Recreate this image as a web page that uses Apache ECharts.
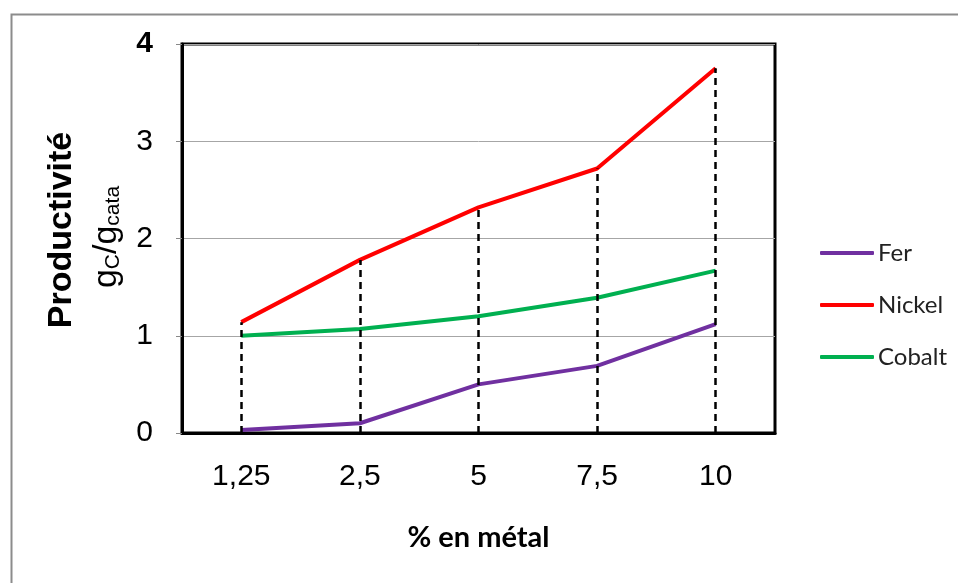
<!DOCTYPE html>
<html>
<head>
<meta charset="utf-8">
<script src="https://cdn.jsdelivr.net/npm/echarts@6/dist/echarts.min.js"></script>
<style>html,body{margin:0;padding:0;background:#fff}#c{width:958px;height:583px}</style>
</head>
<body>
<div id="c"></div>
<script>
var categories = ['1,25', '2,5', '5', '7,5', '10'];
var fer = [0.03, 0.10, 0.50, 0.69, 1.12];
var nickel = [1.14, 1.78, 2.32, 2.72, 3.75];
var cobalt = [1.00, 1.07, 1.20, 1.39, 1.67];
var yTicks = [0, 1, 2, 3, 4];

var chart = echarts.init(document.getElementById('c'));
var dropData = categories.map(function (c, i) {
  var top = Math.max(fer[i], nickel[i], cobalt[i]);
  return [{ coord: [c, 0] }, { coord: [c, top] }];
});
var font = 'Liberation Sans, Arial, sans-serif';
chart.setOption({
  animation: false,
  backgroundColor: '#fff',
  grid: { left: 182, top: 44, right: 183, bottom: 150, show: true, borderColor: '#000', borderWidth: 3, backgroundColor: 'transparent' },
  legend: {
    orient: 'vertical', left: 815, top: 236,
    itemWidth: 54, itemHeight: 4, itemGap: 28,
    icon: 'roundRect',
    textStyle: { fontFamily: 'Lato, sans-serif', fontSize: 24, color: '#222', lineHeight: 20, padding: [0, 0, 0, -1] },
    data: ['Fer', 'Nickel', 'Cobalt']
  },
  xAxis: {
    type: 'category', data: categories,
    axisLine: { lineStyle: { color: '#000', width: 3 } },
    axisTick: { show: false },
    axisLabel: { fontFamily: font, fontSize: 30, color: '#000', margin: 29 },
    name: '% en métal', nameLocation: 'middle', nameGap: 90,
    nameTextStyle: { fontFamily: 'Lato, sans-serif', fontSize: 29, fontWeight: 'bold', color: '#000' }
  },
  yAxis: {
    type: 'value', min: 0, max: 4, interval: 1,
    axisLine: { show: true, lineStyle: { color: '#000', width: 3 } },
    axisTick: { show: true, length: 6, lineStyle: { color: '#888', width: 1 } },
    splitLine: { lineStyle: { color: '#a6a6a6', width: 1 } },
    axisLabel: {
      fontFamily: font, fontSize: 30, color: '#000', margin: 29,
      formatter: function (v) { return v === 4 ? '{b|' + v + '}' : String(v); },
      rich: { b: { fontFamily: font, fontSize: 30, fontWeight: 'bold', color: '#000' } }
    }
  },
  graphic: [
    { type: 'rect', left: 9, top: 12, shape: { width: 1200, height: 1200 }, style: { fill: 'none', stroke: '#8c8c8c', lineWidth: 2 }, z: -10, silent: true },
    { type: 'text', x: 62, y: 230, rotation: Math.PI / 2,
      style: { text: 'Productivité', font: 'bold 34px Liberation Sans, Arial, sans-serif', fill: '#000', align: 'center', verticalAlign: 'middle' } },
    { type: 'text', x: 105, y: 237, rotation: Math.PI / 2,
      style: {
        text: '{g|g}{s|C}{g|/g}{s|cata}', align: 'center', verticalAlign: 'middle',
        rich: {
          g: { fontFamily: font, fontSize: 34, fill: '#000', color: '#000', lineHeight: 38, verticalAlign: 'bottom' },
          s: { fontFamily: font, fontSize: 21, fill: '#000', color: '#000', lineHeight: 21, verticalAlign: 'bottom' }
        }
      } }
  ],
  series: [
    { name: 'drop', type: 'line', data: [], z: 1,
      markLine: { silent: true, symbol: 'none', label: { show: false },
        lineStyle: { color: '#000', width: 2.5, type: [7, 5] }, data: dropData } },
    { name: 'Fer', type: 'line', data: fer, showSymbol: false, z: 3, color: '#7030A0', lineStyle: { width: 4, color: '#7030A0' } },
    { name: 'Nickel', type: 'line', data: nickel, showSymbol: false, z: 3, color: '#FF0000', lineStyle: { width: 4, color: '#FF0000' } },
    { name: 'Cobalt', type: 'line', data: cobalt, showSymbol: false, z: 3, color: '#00B050', lineStyle: { width: 4, color: '#00B050' } }
  ]
});
</script>
</body>
</html>
